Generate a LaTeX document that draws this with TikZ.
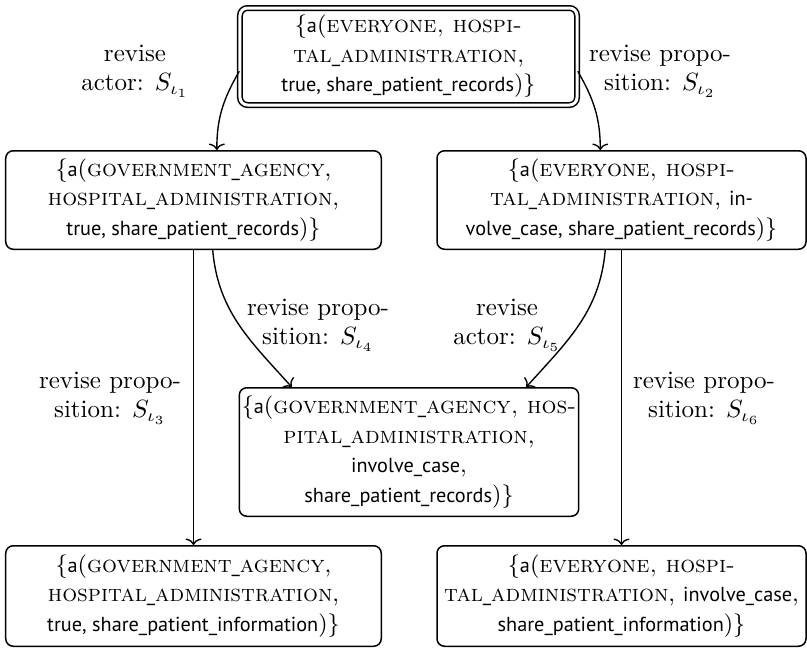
\documentclass[tikz,border=0pt]{standalone}
\usepackage{fontspec}
\setsansfont{PT Sans}[Scale=MatchLowercase]
\usetikzlibrary{arrows.meta}
\begin{document}
\begin{tikzpicture}[
  x=0.4pt, y=-0.4pt,
  font=\fontsize{10}{11.8}\selectfont,
  state/.style={draw, rounded corners=3pt, line width=.6pt, align=center,
                inner sep=1pt, font=\fontsize{9.4}{11.8}\selectfont},
  init/.style={state, double, double distance=1.2pt},
  rev/.style={align=center},
  flow/.style={-{To[length=2.6pt, width=6.4pt]}, line width=.55pt}
]
  \useasboundingbox (0,0) rectangle (807,648);
  \node[init, minimum width=134.8pt, minimum height=38.8pt] (top) at (408.5,56.5)
    {\{\textsf{a}(\textsc{everyone, hospi-}\\\textsc{tal\textsf{\_}administration},\\\textsf{true, share\_patient\_records})\}};
  \node[state, minimum width=150.2pt, minimum height=39.4pt] (gov) at (193.5,200)
    {\{\textsf{a}(\textsc{government\textsf{\_}agency},\\\textsc{hospital\textsf{\_}administration},\\\textsf{true, share\_patient\_records})\}};
  \node[state, minimum width=147.6pt, minimum height=39.4pt] (inv) at (621.5,200)
    {\{\textsf{a}(\textsc{everyone, hospi-}\\\textsc{tal\textsf{\_}administration}, \textsf{in-}\\\textsf{volve\_case, share\_patient\_records})\}};
  \node[state, minimum width=135.4pt, minimum height=51.4pt] (both) at (409,452)
    {\{\textsf{a}(\textsc{government\textsf{\_}agency, hos-}\\\textsc{pital\textsf{\_}administration},\\\textsf{involve\_case},\\\textsf{share\_patient\_records})\}};
  \node[state, minimum width=150.2pt, minimum height=40.2pt] (govinfo) at (193.5,596)
    {\{\textsf{a}(\textsc{government\textsf{\_}agency},\\\textsc{hospital\textsf{\_}administration},\\\textsf{true, share\_patient\_information})\}};
  \node[state, minimum width=147.6pt, minimum height=40.2pt] (invinfo) at (621.5,596)
    {\{\textsf{a}(\textsc{everyone, hospi-}\\\textsc{tal\textsf{\_}administration}, \textsf{involve\_case},\\\textsf{share\_patient\_information})\}};
  \draw[flow] (top.185) to[out=240, in=90] (gov.65);
  \draw[flow] (top.-5) to[out=-60, in=90] (inv.113);
  \draw[flow] (gov.-69) to[out=-85, in=132] (both.151);
  \draw[flow] (inv.252) to[out=-95, in=48] (both.29);
  \draw[flow] (gov) -- (govinfo);
  \draw[flow] (inv) -- (invinfo);
  \node[rev] (rev1) at (135,71) {revise\\actor: $S_{\iota_1}$};
  \node[rev] (rev2) at (660,71) {revise propo-\\sition: $S_{\iota_2}$};
  \node[rev] (rev3) at (110,398) {revise propo-\\sition: $S_{\iota_3}$};
  \node[rev] (rev4) at (318,325) {revise propo-\\sition: $S_{\iota_4}$};
  \node[rev] (rev5) at (507,325) {revise\\actor: $S_{\iota_5}$};
  \node[rev] (rev6) at (704,398) {revise propo-\\sition: $S_{\iota_6}$};
\end{tikzpicture}
\end{document}
